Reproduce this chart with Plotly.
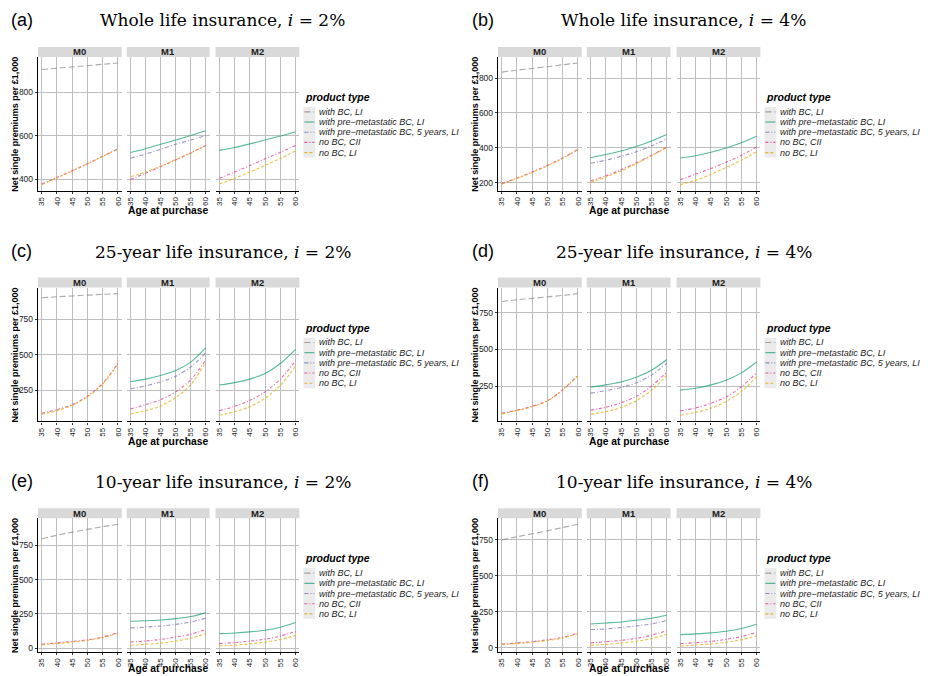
import plotly.graph_objects as go

# ---------------- data ----------------
ages = [35, 40, 45, 50, 55, 60]
facets = ["M0", "M1", "M2"]
series_names = ["with BC, LI", "with pre\u2212metastatic BC, LI",
                "with pre\u2212metastatic BC, 5 years, LI", "no BC, CII", "no BC, LI"]
series_colors = ["#8c8c8c", "#1B9E77", "#7570B3", "#E7298A", "#E6AB02"]
series_dash = ["6px,3px", "solid", "4px,2px,1px,2px", "3px,2px,1px,2px", "3px,2px"]
panel_labels = ["(a)", "(b)", "(c)", "(d)", "(e)", "(f)"]
panel_titles = ["Whole life insurance, <i>i</i> = 2%", "Whole life insurance, <i>i</i> = 4%",
                "25-year life insurance, <i>i</i> = 2%", "25-year life insurance, <i>i</i> = 4%",
                "10-year life insurance, <i>i</i> = 2%", "10-year life insurance, <i>i</i> = 4%"]
panel_dtick = [200, 200, 250, 250, 250, 250]

# (a) Whole life insurance, i = 2%
a_m0_bc = [905, 911, 917, 923, 929, 935]
a_m0_cii = [377, 407, 438, 471, 505, 540]
a_m0_li = [374, 405, 437, 470, 504, 538]
a_m1_pm = [522, 540, 560, 580, 601, 623]
a_m1_pm5 = [496, 515, 537, 560, 580, 600]
a_m1_cii = [398, 427, 457, 488, 520, 555]
a_m1_li = [410, 432, 459, 489, 520, 554]
a_m2_pm = [532, 545, 562, 580, 598, 618]
a_m2_cii = [403, 432, 462, 493, 523, 555]
a_m2_li = [377, 403, 432, 463, 495, 530]
# (b) Whole life insurance, i = 4%
b_m0_bc = [834, 845, 855, 865, 876, 886]
b_m0_cii = [195, 228, 263, 300, 343, 392]
b_m0_li = [192, 225, 260, 298, 340, 390]
b_m1_pm = [344, 362, 383, 408, 440, 477]
b_m1_pm5 = [312, 330, 352, 378, 412, 452]
b_m1_cii = [212, 240, 275, 315, 358, 405]
b_m1_li = [203, 233, 268, 310, 355, 402]
b_m2_pm = [342, 355, 375, 400, 430, 467]
b_m2_cii = [218, 250, 282, 318, 358, 405]
b_m2_li = [190, 215, 248, 288, 330, 378]
# (c) 25-year life insurance, i = 2%
c_m0_bc = [903, 910, 916, 922, 927, 932]
c_m0_cii = [90, 115, 150, 210, 300, 440]
c_m0_li = [83, 108, 145, 205, 295, 435]
c_m1_pm = [313, 330, 355, 390, 450, 550]
c_m1_pm5 = [262, 282, 310, 350, 415, 515]
c_m1_cii = [120, 150, 185, 240, 325, 465]
c_m1_li = [85, 108, 140, 200, 290, 450]
c_m2_pm = [288, 305, 330, 370, 440, 540]
c_m2_cii = [108, 138, 180, 240, 330, 458]
c_m2_li = [75, 100, 135, 195, 285, 422]
# (d) 25-year life insurance, i = 4%
d_m0_bc = [828, 840, 850, 860, 870, 882]
d_m0_cii = [65, 85, 112, 150, 225, 325]
d_m0_li = [60, 82, 108, 148, 222, 320]
d_m1_pm = [243, 258, 278, 310, 358, 432]
d_m1_pm5 = [202, 218, 240, 272, 325, 405]
d_m1_cii = [85, 105, 135, 180, 250, 345]
d_m1_li = [58, 75, 103, 150, 220, 325]
d_m2_pm = [222, 235, 258, 290, 340, 415]
d_m2_cii = [80, 100, 132, 175, 245, 340]
d_m2_li = [50, 70, 98, 145, 212, 312]
# (e) 10-year life insurance, i = 2%
e_m0_bc = [800, 825, 848, 868, 888, 905]
e_m0_cii = [28, 37, 48, 60, 80, 113]
e_m0_li = [25, 33, 43, 56, 75, 108]
e_m1_pm = [196, 199, 205, 215, 230, 257]
e_m1_pm5 = [147, 153, 161, 173, 190, 218]
e_m1_cii = [44, 51, 63, 80, 100, 137]
e_m1_li = [20, 27, 36, 50, 72, 106]
e_m2_pm = [105, 110, 118, 130, 152, 186]
e_m2_cii = [32, 40, 50, 65, 87, 122]
e_m2_li = [15, 21, 30, 43, 62, 93]
# (f) 10-year life insurance, i = 4%
f_m0_bc = [750, 771, 792, 813, 836, 858]
f_m0_cii = [25, 33, 42, 55, 72, 102]
f_m0_li = [22, 29, 38, 50, 67, 97]
f_m1_pm = [165, 172, 179, 191, 205, 226]
f_m1_pm5 = [126, 130, 140, 151, 165, 189]
f_m1_cii = [33, 42, 51, 65, 86, 119]
f_m1_li = [16, 23, 33, 44, 63, 93]
f_m2_pm = [91, 96, 103, 114, 133, 163]
f_m2_cii = [28, 35, 44, 58, 77, 105]
f_m2_li = [12, 19, 26, 37, 56, 82]

# series index: 0 with BC LI, 1 pre-met LI, 2 pre-met 5y LI, 3 no BC CII, 4 no BC LI
panels = [
    [{0: a_m0_bc, 3: a_m0_cii, 4: a_m0_li}, {1: a_m1_pm, 2: a_m1_pm5, 3: a_m1_cii, 4: a_m1_li}, {1: a_m2_pm, 3: a_m2_cii, 4: a_m2_li}],
    [{0: b_m0_bc, 3: b_m0_cii, 4: b_m0_li}, {1: b_m1_pm, 2: b_m1_pm5, 3: b_m1_cii, 4: b_m1_li}, {1: b_m2_pm, 3: b_m2_cii, 4: b_m2_li}],
    [{0: c_m0_bc, 3: c_m0_cii, 4: c_m0_li}, {1: c_m1_pm, 2: c_m1_pm5, 3: c_m1_cii, 4: c_m1_li}, {1: c_m2_pm, 3: c_m2_cii, 4: c_m2_li}],
    [{0: d_m0_bc, 3: d_m0_cii, 4: d_m0_li}, {1: d_m1_pm, 2: d_m1_pm5, 3: d_m1_cii, 4: d_m1_li}, {1: d_m2_pm, 3: d_m2_cii, 4: d_m2_li}],
    [{0: e_m0_bc, 3: e_m0_cii, 4: e_m0_li}, {1: e_m1_pm, 2: e_m1_pm5, 3: e_m1_cii, 4: e_m1_li}, {1: e_m2_pm, 3: e_m2_cii, 4: e_m2_li}],
    [{0: f_m0_bc, 3: f_m0_cii, 4: f_m0_li}, {1: f_m1_pm, 2: f_m1_pm5, 3: f_m1_cii, 4: f_m1_li}, {1: f_m2_pm, 3: f_m2_cii, 4: f_m2_li}],
]

# ---------------- layout geometry (page pixels) ----------------
OFF = 8                      # default page body margin
W, H = 932 - OFF, 676 - OFF  # figure size
def px(x): return (x - OFF) / W
def py(y): return 1 - (y - OFF) / H

col_facets = [[(37, 121), (126, 209), (215, 299)], [(498, 582), (587, 671), (677, 761)]]
row_plot = [(57, 191), (288, 422), (519, 653)]
row_xtitle_y = [211, 442, 669]
col_label_x = [8, 470]
col_title_x = [222, 684]
col_ytitle_x = [14, 475]
col_legend_x = [303, 765]
row_label_top = [8, 239, 470]
row_title_y = [20, 252, 483]
strip_h = 10

SANS = "Liberation Sans, Arial, sans-serif"
SERIF = "DejaVu Serif, serif"

fig = go.Figure()
layout = dict(width=W, height=H, margin=dict(l=0, r=0, t=0, b=0),
              paper_bgcolor="white", plot_bgcolor="white", showlegend=False)
shapes, annotations = [], []

xlo, xhi = ages[0] - 0.05 * (ages[-1] - ages[0]), ages[-1] + 0.05 * (ages[-1] - ages[0])

for p, pdata in enumerate(panels):
    r, c = divmod(p, 2)
    allv = [v for fd in pdata for s in fd.values() for v in s]
    vmin, vmax = min(allv), max(allv)
    pad = 0.05 * (vmax - vmin)
    yr = [vmin - pad, vmax + pad]
    top, bot = row_plot[r]
    for f, fdata in enumerate(pdata):
        idx = p * 3 + f + 1
        xn = "x" if idx == 1 else f"x{idx}"
        yn = "y" if idx == 1 else f"y{idx}"
        x0, x1 = col_facets[c][f]
        layout["xaxis" if idx == 1 else f"xaxis{idx}"] = dict(
            domain=[px(x0), px(x1)], range=[xlo, xhi], anchor=yn,
            tickvals=ages, tickangle=-90, showgrid=True, gridcolor="#BEBEBE", gridwidth=1,
            showline=True, linecolor="black", linewidth=1.3, ticks="outside", ticklen=2,
            tickcolor="#333", tickfont=dict(family=SANS, size=8, color="#222"),
            zeroline=False, fixedrange=True)
        layout["yaxis" if idx == 1 else f"yaxis{idx}"] = dict(
            domain=[py(bot), py(top)], range=yr, anchor=xn, tick0=0, dtick=panel_dtick[p],
            showgrid=True, gridcolor="#BEBEBE", gridwidth=1,
            showline=(f == 0), linecolor="black", linewidth=1.3,
            ticks="outside" if f == 0 else "", ticklen=2, tickcolor="#333",
            showticklabels=(f == 0), tickfont=dict(family=SANS, size=8.5, color="#222"),
            zeroline=False, fixedrange=True)
        for s, vals in fdata.items():
            fig.add_trace(go.Scatter(
                x=ages, y=vals, mode="lines", xaxis=xn, yaxis=yn, name=series_names[s],
                opacity=0.72,
                line=dict(color=series_colors[s], width=1.1, dash=series_dash[s],
                          shape="spline", smoothing=0.8)))
        # facet strip
        shapes.append(dict(type="rect", xref=f"{xn} domain", yref=f"{yn} domain",
                           x0=0, x1=1, y0=1, y1=1 + strip_h / (bot - top),
                           fillcolor="#D9D9D9", line=dict(width=0), layer="below"))
        annotations.append(dict(text=f"<b>{facets[f]}</b>", xref=f"{xn} domain", yref=f"{yn} domain",
                                x=0.5, y=1 + (strip_h / 2) / (bot - top), showarrow=False,
                                font=dict(family=SANS, size=9.5, color="#1a1a1a"),
                                xanchor="center", yanchor="middle"))
    # panel label and title
    annotations.append(dict(text=panel_labels[p], xref="paper", yref="paper",
                            x=px(col_label_x[c]), y=py(row_label_top[r]), showarrow=False,
                            xanchor="left", yanchor="top",
                            font=dict(family=SANS, size=18, color="black")))
    annotations.append(dict(text=panel_titles[p], xref="paper", yref="paper",
                            x=px(col_title_x[c]), y=py(row_title_y[r]), showarrow=False,
                            xanchor="center", yanchor="middle",
                            font=dict(family=SERIF, size=17, color="black")))
    # axis titles
    annotations.append(dict(text="<b>Net single premiums per \u00a31,000</b>", xref="paper", yref="paper",
                            x=px(col_ytitle_x[c]), y=py((top + bot) / 2), showarrow=False,
                            textangle=-90, xanchor="center", yanchor="middle",
                            font=dict(family=SANS, size=9, color="black")))
    mx0, mx1 = col_facets[c][1]
    annotations.append(dict(text="<b>Age at purchase</b>", xref="paper", yref="paper",
                            x=px((mx0 + mx1) / 2), y=py(row_xtitle_y[r]), showarrow=False,
                            xanchor="center", yanchor="middle",
                            font=dict(family=SANS, size=10.3, color="black")))
    # legend (ggplot-style, compact)
    lx = col_legend_x[c]
    ty = top + 40
    annotations.append(dict(text="<b><i>product type</i></b>", xref="paper", yref="paper",
                            x=px(lx), y=py(ty), showarrow=False, xanchor="left", yanchor="middle",
                            font=dict(family=SANS, size=10.5, color="black")))
    first = ty + 15
    step = 10.2
    shapes.append(dict(type="rect", xref="paper", yref="paper",
                       x0=px(lx), x1=px(lx + 12), y0=py(first - 5), y1=py(first + 4 * step + 5),
                       fillcolor="#EBEBEB", line=dict(width=0), layer="below"))
    for s, name in enumerate(series_names):
        yy = first + s * step
        shapes.append(dict(type="line", xref="paper", yref="paper",
                           x0=px(lx + 1), x1=px(lx + 11), y0=py(yy), y1=py(yy),
                           line=dict(color=series_colors[s], width=1.1, dash=series_dash[s]),
                           opacity=0.8))
        annotations.append(dict(text=f"<i>{name}</i>", xref="paper", yref="paper",
                                x=px(lx + 14), y=py(yy), showarrow=False,
                                xanchor="left", yanchor="middle",
                                font=dict(family=SANS, size=9, color="#1a1a1a")))

layout["shapes"] = shapes
layout["annotations"] = annotations
fig.update_layout(**layout)
fig.write_html("out.html")
